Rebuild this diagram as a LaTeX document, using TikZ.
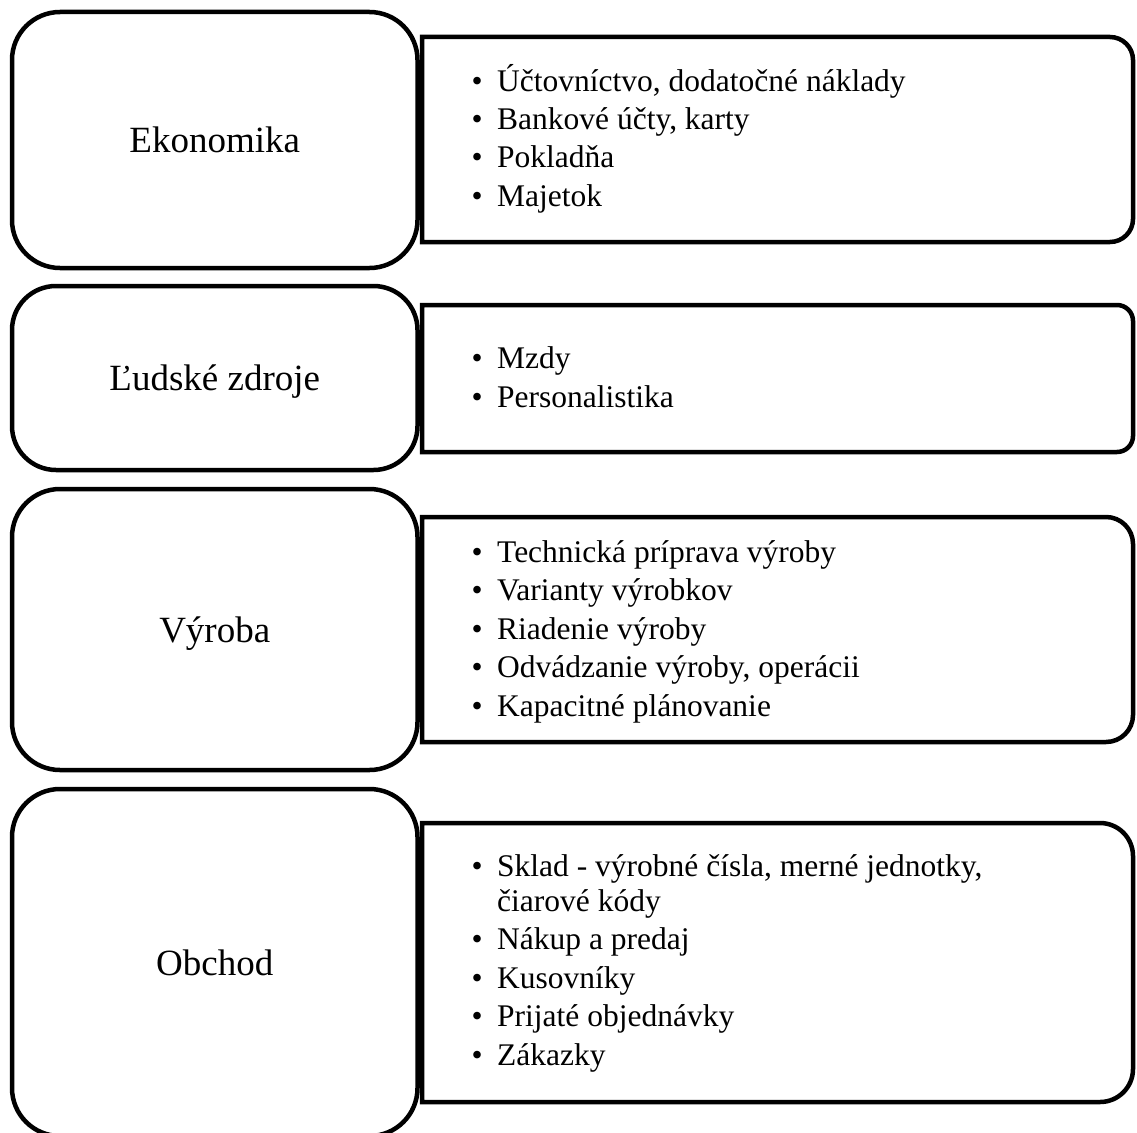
\documentclass[tikz,border=0pt]{standalone}
\usepackage{fontspec}
\setmainfont{Liberation Serif}

% one bullet paragraph with a hanging indent
\newcommand\bulletitem[1]{\par\hangindent=25.5pt\hangafter=1\noindent\makebox[25.5pt][l]{•}#1}
% a block of bullet paragraphs, baseline at its first line
\newcommand\itemlist[1]{\parbox[t]{640pt}{\fontsize{31.5}{35}\selectfont\setlength\parskip{3.5pt}#1\par}}

\begin{document}
\begin{tikzpicture}[x=1pt,y=-1pt,
  frameline/.style={draw=black,line width=4.5pt,fill=white},
  catbox/.style={draw=black,line width=4.5pt,fill=white,rounded corners=48pt,
    minimum width=405.5pt,minimum height=#1,inner sep=0pt,
    font=\fontsize{37}{40}\selectfont,text height=25pt,text depth=0pt},
  listtext/.style={anchor=base west,inner sep=0pt}]

\fill[white] (0,0) rectangle (1137,1132);
\useasboundingbox (0,0) rectangle (1137,1132);

% frame of a list panel: square on the left, rounded on the right
% #1 top, #2 bottom, #3 corner radius
\newcommand\listframe[3]{%
  \draw[frameline] (422,#1) -- ({1133-#3},#1)
    arc[start angle=-90,end angle=0,radius=#3] -- (1133,{#2-#3})
    arc[start angle=0,end angle=90,radius=#3] -- (422,#2) -- cycle;}

\listframe{37}{242}{23}
\listframe{305}{452}{16}
\listframe{517}{742}{27}
\listframe{823}{1102}{33}

% category boxes
\node[catbox=256]   (eko) at (214.75,140)   {Ekonomika};
\node[catbox=184, rounded corners=44pt] (ludia) at (214.75,378) {Ľudské zdroje};
\node[catbox=281]   (vyr) at (214.75,629.5) {Výroba};
\node[catbox=347]   (obch) at (214.75,962.5) {Obchod};

% bullet lists
\node[listtext] (ekolist) at (471.5,91) {\itemlist{%
  \bulletitem{Účtovníctvo, dodatočné náklady}
  \bulletitem{Bankové účty, karty}
  \bulletitem{Pokladňa}
  \bulletitem{Majetok}}};

\node[listtext] (ludialist) at (471.5,368.5) {\itemlist{%
  \bulletitem{Mzdy}
  \bulletitem{Personalistika}}};

\node[listtext] (vyrlist) at (471.5,562) {\itemlist{%
  \bulletitem{Technická príprava výroby}
  \bulletitem{Varianty výrobkov}
  \bulletitem{Riadenie výroby}
  \bulletitem{Odvádzanie výroby, operácii}
  \bulletitem{Kapacitné plánovanie}}};

\node[listtext] (obchlist) at (471.5,876) {\itemlist{%
  \bulletitem{Sklad - výrobné čísla, merné jednotky,\\čiarové kódy}
  \bulletitem{Nákup a predaj}
  \bulletitem{Kusovníky}
  \bulletitem{Prijaté objednávky}
  \bulletitem{Zákazky}}};

\end{tikzpicture}
\end{document}
